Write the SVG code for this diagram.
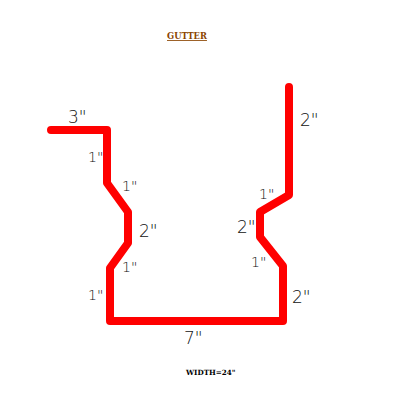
<svg xmlns="http://www.w3.org/2000/svg" width="413" height="420" viewBox="0 0 413 420">
<style>
.dim{font-family:"DejaVu Sans","Liberation Sans",sans-serif;font-size:17px;fill:#111;font-weight:200}
.small{font-size:14px}
.title{font-family:"DejaVu Serif","Liberation Serif",serif;font-weight:bold;font-size:8.4px;fill:#8b4500;text-decoration:underline}
.note{font-family:"DejaVu Serif","Liberation Serif",serif;font-weight:bold;font-size:7.2px;fill:#000}
.profile{fill:none;stroke:#f00;stroke-width:8;stroke-linejoin:round;stroke-linecap:round}
</style>
<rect width="413" height="420" fill="#fff"/>
<g id="connectors">
<path class="profile" d="M51 130H107V183L128 212V243L110 268V321H283V266L260 237V212L289 195V87"/>
</g>
<g id="title"><text class="title" x="167" y="39">GUTTER</text></g>
<g id="labels">
<text class="dim" x="68" y="123">3"</text>
<text class="dim small" x="88" y="162">1"</text>
<text class="dim small" x="122" y="191">1"</text>
<text class="dim" x="139" y="237">2"</text>
<text class="dim small" x="122" y="272">1"</text>
<text class="dim small" x="88" y="300">1"</text>
<text class="dim" x="184" y="344">7"</text>
<text class="dim" x="300" y="126">2"</text>
<text class="dim small" x="259" y="199">1"</text>
<text class="dim" x="237" y="233">2"</text>
<text class="dim small" x="251" y="267">1"</text>
<text class="dim" x="292" y="303">2"</text>
</g>
<g id="width-note"><text class="note" x="186" y="375">WIDTH=24"</text></g>
</svg>
